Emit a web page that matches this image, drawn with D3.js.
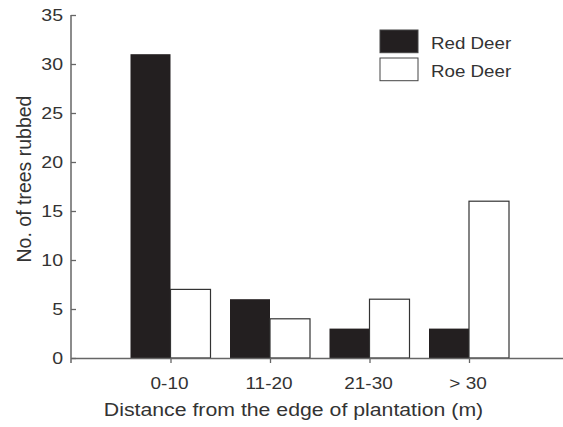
<!DOCTYPE html>
<html>
<head>
<meta charset="utf-8">
<script src="https://cdn.jsdelivr.net/npm/d3@7"></script>
<style>
  body { margin: 0; background: #fff; }
  text { font-family: "Liberation Sans", Arial, sans-serif; fill: #333; }
</style>
</head>
<body>
<svg id="chart" width="563" height="427"></svg>
<script>
// data
var categories = ["0-10", "11-20", "21-30", "> 30"];
var redDeer = [31, 6, 3, 3];
var roeDeer = [7, 4, 6, 16];
var yTicks = [0, 5, 10, 15, 20, 25, 30, 35];

var svg = d3.select("#chart");
var axisColor = "#666";
var barDark = "#231f20";
var sx = 1.15; // the original lettering is a bit wider than Liberation Sans

// the category slots sit at 1..4 on a 0..5 axis
var x = d3.scaleLinear().domain([0, 5]).range([71, 568.5]);
var y = d3.scaleLinear().domain([0, 35]).range([358, 15]);
var barW = 40;

// put a horizontally stretched label at (px, py)
function label(px, py, str, size, anchor) {
    svg.append("g")
        .attr("transform", "translate(" + px + "," + py + ") scale(" + sx + ",1)")
        .append("text")
        .attr("text-anchor", anchor)
        .style("font-size", size + "px")
        .text(str);
}

// y axis, ticks pointing inward
var yAxis = svg.append("g")
    .attr("transform", "translate(71,0)")
    .call(d3.axisRight(y).tickValues(yTicks).tickSize(5).tickFormat(""));
yAxis.select(".domain").remove();
yAxis.selectAll("line").attr("stroke", axisColor).attr("stroke-width", 1.3);
svg.append("line")
    .attr("x1", 71).attr("x2", 71)
    .attr("y1", y(35)).attr("y2", y(0) + 5)
    .attr("stroke", axisColor).attr("stroke-width", 1.5);

yTicks.forEach(function(d) {
    label(63, y(d) + 6, d, 17, "end");
});

// bars
var groups = svg.selectAll(".cat")
    .data(categories).enter()
    .append("g")
    .attr("class", "cat");

groups.append("rect")
    .attr("x", function(d, i) { return x(i + 1) - barW; })
    .attr("y", function(d, i) { return y(redDeer[i]); })
    .attr("width", barW)
    .attr("height", function(d, i) { return y(0) - y(redDeer[i]); })
    .attr("fill", barDark);

groups.append("rect")
    .attr("x", function(d, i) { return x(i + 1); })
    .attr("y", function(d, i) { return y(roeDeer[i]); })
    .attr("width", barW)
    .attr("height", function(d, i) { return y(0) - y(roeDeer[i]); })
    .attr("fill", "#fff")
    .attr("stroke", "#333")
    .attr("stroke-width", 1.2);

// x axis
var xAxis = svg.append("g")
    .attr("transform", "translate(0," + y(0) + ")")
    .call(d3.axisBottom(x).tickValues([1, 2, 3, 4]).tickSize(5).tickSizeOuter(0).tickFormat(""));
xAxis.select(".domain").attr("stroke", axisColor).attr("stroke-width", 1.5);
xAxis.selectAll("line").attr("stroke", axisColor).attr("stroke-width", 1.3);

categories.forEach(function(c, i) {
    label(x(i + 1) - 1, 389, c, 16.5, "middle");
});

// axis titles
label(293.5, 416, "Distance from the edge of plantation (m)", 18.5, "middle");

svg.append("text")
    .attr("transform", "translate(30.5,179) rotate(-90)")
    .attr("text-anchor", "middle")
    .style("font-size", "19.5px")
    .text("No. of trees rubbed");

// legend
var legendItems = [
    { name: "Red Deer", fill: barDark },
    { name: "Roe Deer", fill: "#fff" }
];
legendItems.forEach(function(d, i) {
    var top = 30 + i * 28;
    svg.append("rect")
        .attr("x", 380)
        .attr("y", top)
        .attr("width", 38)
        .attr("height", 22.7)
        .attr("fill", d.fill)
        .attr("stroke", "#444")
        .attr("stroke-width", 1);
    label(431, top + 19, d.name, 16.3, "start");
});
</script>
</body>
</html>
